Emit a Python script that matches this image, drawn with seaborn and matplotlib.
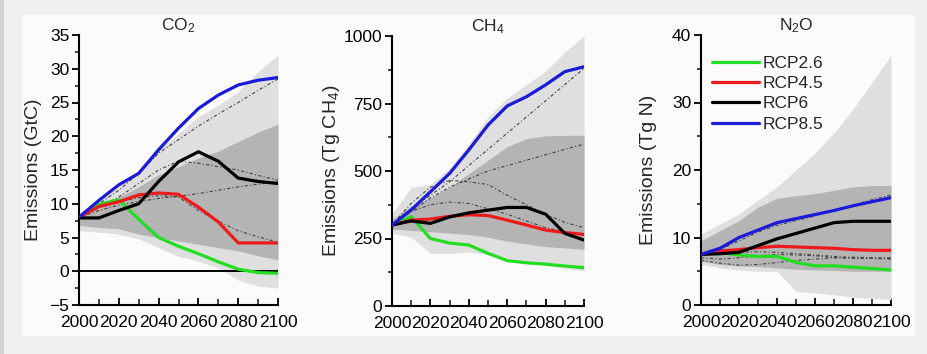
import numpy as np
import pandas as pd
import matplotlib
matplotlib.use("Agg")
import matplotlib.pyplot as plt
from matplotlib.patches import Rectangle
import seaborn as sns

sns.set_style("ticks")
plt.rcParams['font.family'] = ['Liberation Sans', 'DejaVu Sans']
plt.rcParams['mathtext.default'] = 'regular'

years = [2000, 2010, 2020, 2030, 2040, 2050, 2060, 2070, 2080, 2090, 2100]
scenarios = ["RCP2.6", "RCP4.5", "RCP6", "RCP8.5"]
colors = ["#22dd22", "#ee1a1a", "#000000", "#1a1ad8"]

# ---- CO2 (GtC) ----
co2_rcp26 = [8.0, 9.9, 10.6, 7.7, 5.0, 3.7, 2.6, 1.4, 0.3, -0.2, -0.3]
co2_rcp45 = [8.0, 9.6, 10.3, 11.3, 11.6, 11.4, 9.5, 7.3, 4.2, 4.2, 4.2]
co2_rcp6 = [7.9, 7.9, 9.0, 10.0, 13.3, 16.2, 17.7, 16.3, 13.8, 13.3, 13.0]
co2_rcp85 = [8.0, 10.5, 12.8, 14.5, 18.0, 21.2, 24.1, 26.1, 27.6, 28.3, 28.7]
co2_outer_hi = [8.6, 10.5, 12.5, 15.0, 18.0, 20.4, 22.9, 24.6, 26.6, 29.6, 32.0]
co2_outer_lo = [6.0, 5.8, 5.5, 4.8, 3.5, 2.2, 1.5, 0.5, -1.3, -2.2, -2.5]
co2_inner_hi = [8.0, 9.5, 11.0, 12.5, 14.3, 15.5, 16.8, 17.8, 19.2, 20.6, 21.8]
co2_inner_lo = [6.8, 6.5, 6.3, 5.5, 5.0, 4.5, 4.0, 3.5, 3.0, 2.3, 1.7]
co2_ref_a = [8.0, 10.0, 12.0, 14.5, 17.5, 19.5, 21.5, 23.3, 25.0, 26.8, 28.5]
co2_ref_b = [8.0, 9.5, 11.0, 13.0, 15.0, 16.3, 16.0, 15.5, 15.0, 14.2, 13.5]
co2_ref_c = [8.0, 9.0, 9.8, 10.3, 10.8, 11.1, 11.5, 12.0, 12.5, 12.9, 13.3]
co2_ref_d = [8.0, 9.4, 10.3, 10.9, 11.2, 11.0, 9.0, 7.4, 6.0, 5.1, 4.3]

# ---- CH4 (Tg CH4) ----
ch4_rcp26 = [300, 331, 250, 233, 226, 195, 168, 160, 155, 148, 142]
ch4_rcp45 = [300, 318, 322, 332, 338, 335, 318, 300, 281, 272, 265]
ch4_rcp6 = [300, 315, 306, 330, 345, 355, 365, 365, 340, 269, 244]
ch4_rcp85 = [300, 356, 423, 491, 578, 670, 741, 775, 819, 868, 886]
ch4_outer_hi = [340, 440, 450, 510, 600, 700, 770, 820, 870, 940, 1000]
ch4_outer_lo = [270, 255, 195, 195, 200, 190, 175, 160, 150, 140, 130]
ch4_inner_hi = [320, 370, 400, 440, 490, 540, 590, 620, 630, 632, 632]
ch4_inner_lo = [285, 280, 275, 270, 265, 255, 240, 230, 220, 215, 210]
ch4_ref_a = [300, 360, 410, 460, 520, 580, 640, 700, 760, 820, 880]
ch4_ref_b = [300, 350, 400, 440, 470, 500, 520, 540, 560, 580, 600]
ch4_ref_c = [300, 380, 440, 465, 460, 450, 410, 375, 340, 310, 290]
ch4_ref_d = [300, 350, 375, 385, 380, 360, 340, 315, 290, 275, 265]

# ---- N2O (Tg N) ----
n2o_rcp26 = [7.5, 7.8, 7.4, 7.2, 7.2, 6.3, 5.8, 5.8, 5.6, 5.4, 5.2]
n2o_rcp45 = [7.5, 8.0, 8.2, 8.5, 8.7, 8.6, 8.5, 8.4, 8.2, 8.1, 8.1]
n2o_rcp6 = [7.5, 7.6, 7.8, 8.8, 9.8, 10.6, 11.4, 12.2, 12.4, 12.4, 12.4]
n2o_rcp85 = [7.5, 8.4, 10.0, 11.1, 12.2, 12.8, 13.4, 14.0, 14.7, 15.3, 15.9]
n2o_outer_hi = [10.5, 12.0, 13.5, 15.5, 17.5, 20.0, 22.5, 25.5, 29.0, 33.0, 37.0]
n2o_outer_lo = [6.0, 5.5, 5.2, 5.0, 5.0, 2.0, 1.8, 1.5, 1.2, 1.0, 0.8]
n2o_inner_hi = [9.5, 11.0, 12.5, 14.5, 15.8, 16.2, 16.5, 17.0, 17.5, 17.7, 17.7]
n2o_inner_lo = [6.5, 6.0, 5.8, 5.7, 5.5, 5.3, 5.2, 5.1, 5.0, 5.0, 5.0]
n2o_ref_a = [7.5, 8.2, 9.5, 10.8, 11.8, 12.5, 13.2, 14.0, 14.8, 15.6, 16.3]
n2o_ref_b = [7.0, 6.8, 7.0, 7.3, 7.5, 7.4, 7.3, 7.0, 6.9, 6.9, 7.0]
n2o_ref_c = [6.6, 6.2, 5.9, 6.0, 6.3, 6.6, 6.8, 7.0, 7.1, 7.0, 6.9]
n2o_ref_d = [7.5, 7.6, 7.8, 7.9, 7.8, 7.6, 7.4, 7.2, 7.0, 6.9, 6.8]

titles = ["CO$_2$", "CH$_4$", "N$_2$O"]
ylabels = ["Emissions (GtC)", "Emissions (Tg CH$_4$)", "Emissions (Tg N)"]
ylims = [(-5, 35), (0, 1000), (0, 40)]
ymajor = [5, 250, 10]
yminor = [2.5, 125, 5]

panels = [
    dict(lines=[co2_rcp26, co2_rcp45, co2_rcp6, co2_rcp85],
         outer=(co2_outer_lo, co2_outer_hi), inner=(co2_inner_lo, co2_inner_hi),
         refs=[co2_ref_a, co2_ref_b, co2_ref_c, co2_ref_d]),
    dict(lines=[ch4_rcp26, ch4_rcp45, ch4_rcp6, ch4_rcp85],
         outer=(ch4_outer_lo, ch4_outer_hi), inner=(ch4_inner_lo, ch4_inner_hi),
         refs=[ch4_ref_a, ch4_ref_b, ch4_ref_c, ch4_ref_d]),
    dict(lines=[n2o_rcp26, n2o_rcp45, n2o_rcp6, n2o_rcp85],
         outer=(n2o_outer_lo, n2o_outer_hi), inner=(n2o_inner_lo, n2o_inner_hi),
         refs=[n2o_ref_a, n2o_ref_b, n2o_ref_c, n2o_ref_d]),
]

W, H = 928, 354
fig = plt.figure(figsize=(W / 100, H / 100), dpi=100, facecolor="#efefef")
fig.patches.append(Rectangle((22 / W, 1 - 336 / H), (915 - 22) / W, (336 - 15) / H,
                             transform=fig.transFigure, facecolor="#fbfbfb",
                             edgecolor="none", zorder=-5))
fig.patches.append(Rectangle((0, 0), 4 / W, 1, transform=fig.transFigure,
                             facecolor="#d2d2d2", edgecolor="none", zorder=-5))

boxes = [(79, 278, 35, 305), (392, 584, 36, 306), (701, 891, 35, 305)]
label_x = [-0.186, -0.260, -0.232]

for i, (p, (l, r, t, b)) in enumerate(zip(panels, boxes)):
    ax = fig.add_axes([l / W, 1 - b / H, (r - l) / W, (b - t) / H])
    ax.set_facecolor("none")
    ax.fill_between(years, p["outer"][0], p["outer"][1], color="#dfdfdf", lw=0, zorder=1)
    ax.fill_between(years, p["inner"][0], p["inner"][1], color="#b4b4b4", lw=0, zorder=2)
    for ref in p["refs"]:
        ax.plot(years, ref, color="#444444", lw=0.8, ls=(0, (3, 2, 1, 2)), zorder=3)
    if i == 0:
        ax.axhline(0, color="black", lw=1.4, zorder=3)
    df = pd.DataFrame({
        "year": years * 4,
        "value": sum(p["lines"], []),
        "scenario": [s for s in scenarios for _ in years],
    })
    sns.lineplot(data=df, x="year", y="value", hue="scenario", hue_order=scenarios,
                 palette=colors, linewidth=2.3, ax=ax, legend=(i == 2), zorder=4)
    ax.set_xlim(2000, 2100)
    ax.set_ylim(*ylims[i])
    ax.set_xticks(range(2000, 2101, 20))
    ax.set_xticks(range(2000, 2101, 10), minor=True)
    lo, hi = ylims[i]
    ax.set_yticks(np.arange(lo, hi + 0.001, ymajor[i]))
    ax.set_yticks(np.arange(lo, hi + 0.001, yminor[i]), minor=True)
    ax.set_xlabel("")
    ax.set_ylabel(ylabels[i], fontsize=14)
    ax.yaxis.set_label_coords(label_x[i], 0.5)
    ax.set_title(titles[i], fontsize=12.5, pad=3)
    sns.despine(ax=ax)
    for s in ["left", "bottom"]:
        ax.spines[s].set_linewidth(1.5)
        ax.spines[s].set_color("black")
    ax.tick_params(axis="x", which="major", direction="in", length=5, width=1.3,
                   labelsize=12.5, pad=7, colors="black")
    ax.tick_params(axis="x", which="minor", direction="in", length=4, width=1.2)
    ax.tick_params(axis="y", which="major", direction="out", length=5, width=1.3,
                   labelsize=12.5, pad=2, colors="black")
    ax.tick_params(axis="y", which="minor", direction="out", length=3, width=1.2)
    if i == 2:
        leg = ax.legend(loc="upper left", bbox_to_anchor=(0.02, 0.95), frameon=False,
                        fontsize=12.5, handlelength=2.7, handletextpad=0.25,
                        labelspacing=0.3, borderaxespad=0)
        for h in leg.get_lines():
            h.set_linewidth(2.3)

fig.savefig("out.png", dpi=100, facecolor=fig.get_facecolor())
